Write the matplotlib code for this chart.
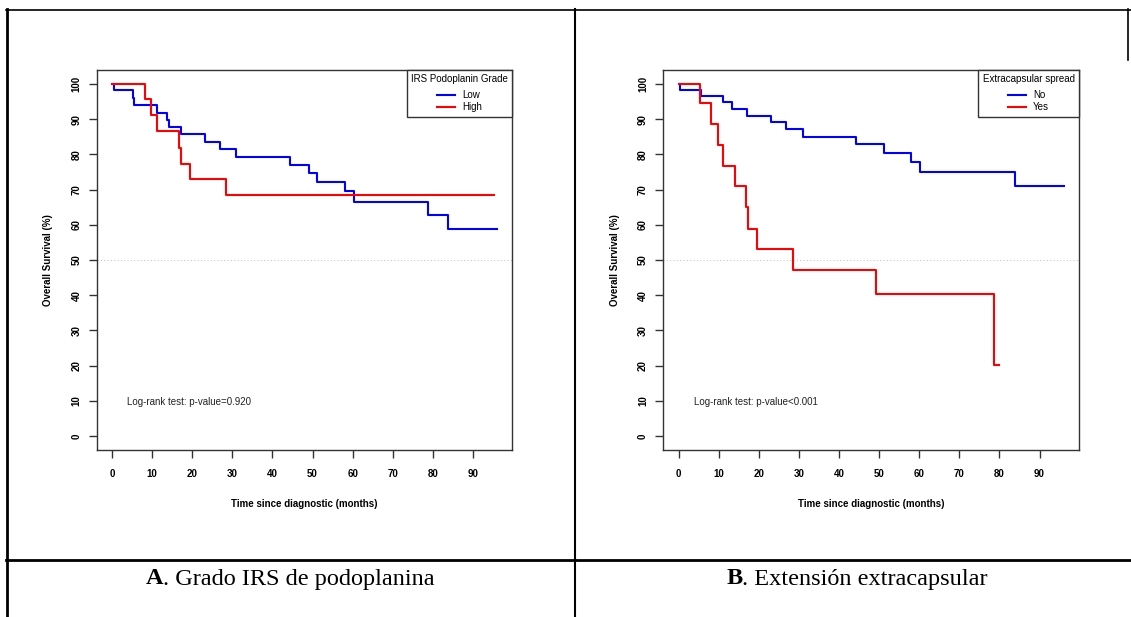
import matplotlib
matplotlib.use("Agg")
import matplotlib.pyplot as plt
from matplotlib.lines import Line2D

# ---------------- data ----------------
a_low_t = [0, 0.5, 5.2, 5.5, 11.1, 13.6, 14.1, 17.1, 23.1, 26.9, 31.0, 44.3, 49.1, 51.2, 58.0, 60.4, 78.8, 83.8, 96.0]
a_low_s = [100, 98.3, 96.0, 94.1, 91.9, 89.8, 87.8, 85.8, 83.6, 81.6, 79.3, 77.1, 74.8, 72.1, 69.5, 66.4, 62.9, 58.9, 58.9]
a_high_t = [0, 8.2, 9.65, 11.1, 16.6, 17.1, 19.4, 28.3, 95.2]
a_high_s = [100, 95.9, 91.2, 86.7, 81.9, 77.3, 73.1, 68.4, 68.4]

b_no_t = [0, 0.4, 5.6, 11.0, 13.4, 17.1, 23.1, 26.8, 30.9, 44.2, 51.2, 57.9, 60.3, 83.8, 96.0]
b_no_s = [100, 98.4, 96.5, 94.8, 92.8, 90.8, 89.1, 87.1, 85.1, 82.9, 80.5, 77.8, 74.9, 70.9, 70.9]
b_yes_t = [0, 5.4, 8.1, 9.9, 11.0, 14.0, 16.8, 17.3, 19.5, 28.4, 49.2, 78.6, 80.0]
b_yes_s = [100, 94.6, 88.6, 82.7, 76.7, 70.9, 65.0, 58.9, 53.0, 47.1, 40.3, 20.2, 20.2]

x_ticks = [0, 10, 20, 30, 40, 50, 60, 70, 80, 90]
y_ticks = [0, 10, 20, 30, 40, 50, 60, 70, 80, 90, 100]

panels = [
    dict(curves=[(a_low_t, a_low_s, "Low"), (a_high_t, a_high_s, "High")],
         legend_title="IRS Podoplanin Grade", ptext="Log-rank test: p-value=0.920",
         caption_bold="A", caption=". Grado IRS de podoplanina"),
    dict(curves=[(b_no_t, b_no_s, "No"), (b_yes_t, b_yes_s, "Yes")],
         legend_title="Extracapsular spread", ptext="Log-rank test: p-value<0.001",
         caption_bold="B", caption=". Extensión extracapsular"),
]
colors = ["#0000ff", "#ff0000"]

W, H = 1131, 617
fig = plt.figure(figsize=(W / 100, H / 100), dpi=100)
plt.rcParams["font.family"] = ["Liberation Sans", "DejaVu Sans"]

# axes positions in pixels: left, right, top, bottom
ax_px = [(96.7, 512.3, 70, 450), (663.3, 1079.0, 70, 450)]

for p, (l, r, t, b) in zip(panels, ax_px):
    ax = fig.add_axes([l / W, 1 - b / H, (r - l) / W, (b - t) / H])
    ax.set_xlim(-3.84, 99.84)
    ax.set_ylim(-4, 104)
    ax.axhline(50, color="#c8c8c8", lw=0.8, ls=(0, (1, 2)), zorder=1)
    for (tt, ss, lab), c in zip(p["curves"], colors):
        ax.step(tt, ss, where="post", color=c, lw=1.5, label=lab, zorder=3)
    ax.set_xticks(x_ticks)
    ax.set_yticks(y_ticks)
    ax.tick_params(axis="both", direction="out", length=6, width=1, color="#333333",
                   labelsize=7)
    ax.tick_params(axis="x", pad=8)
    ax.tick_params(axis="y", pad=5)
    for lbl in ax.get_xticklabels():
        lbl.set_fontweight("bold")
    for lbl in ax.get_yticklabels():
        lbl.set_fontweight("bold")
        lbl.set_rotation(90)
        lbl.set_va("center")
    for sp in ax.spines.values():
        sp.set_color("#333333")
        sp.set_linewidth(1.0)
    ax.set_xlabel("Time since diagnostic (months)", fontsize=7, fontweight="bold")
    ax.set_ylabel("Overall Survival (%)", fontsize=7, fontweight="bold")
    ax.xaxis.set_label_coords(0.5, -0.128)
    ax.yaxis.set_label_coords(-0.104, 0.5)
    ax.text(3.7, 9.7, p["ptext"], fontsize=7, va="center", ha="left", color="#222222")
    leg = ax.legend(title=p["legend_title"], loc="upper right", borderaxespad=0,
                    fancybox=False, edgecolor="#333333", framealpha=1, fontsize=7,
                    title_fontsize=7, handlelength=1.9, handletextpad=0.7,
                    labelspacing=0.25, borderpad=0.45)
    leg.get_frame().set_linewidth(1.0)
    leg._legend_box.sep = 4

# ---------- table borders and captions ----------
def hline(y, x0, x1, lw=2.0):
    fig.add_artist(Line2D([x0 / W, x1 / W], [1 - y / H, 1 - y / H], color="black", lw=lw))

def vline(x, y0, y1, lw=2.0):
    fig.add_artist(Line2D([x / W, x / W], [1 - y0 / H, 1 - y1 / H], color="black", lw=lw))

hline(9.5, 6, 1131, lw=1.2)
hline(560, 6, 1131, lw=2.0)
vline(6.5, 9, 617, lw=2.0)
vline(575, 9, 617, lw=1.5)
vline(1128, 9, 60, lw=1.2)

for (cx, p) in zip([290, 857], panels):
    t1 = fig.text(0, 0, p["caption_bold"], fontsize=17.5, fontweight="bold",
                  family=["Liberation Serif", "DejaVu Serif"], va="center")
    t2 = fig.text(0, 0, p["caption"], fontsize=17.5,
                  family=["Liberation Serif", "DejaVu Serif"], va="center")
    fig.canvas.draw()
    r = fig.canvas.get_renderer()
    w1 = t1.get_window_extent(r).width
    w2 = t2.get_window_extent(r).width
    x0 = cx - (w1 + w2) / 2
    yfig = 1 - 579 / H
    t1.set_position((x0 / W, yfig))
    t2.set_position(((x0 + w1) / W, yfig))

fig.savefig("out.png", dpi=100)
